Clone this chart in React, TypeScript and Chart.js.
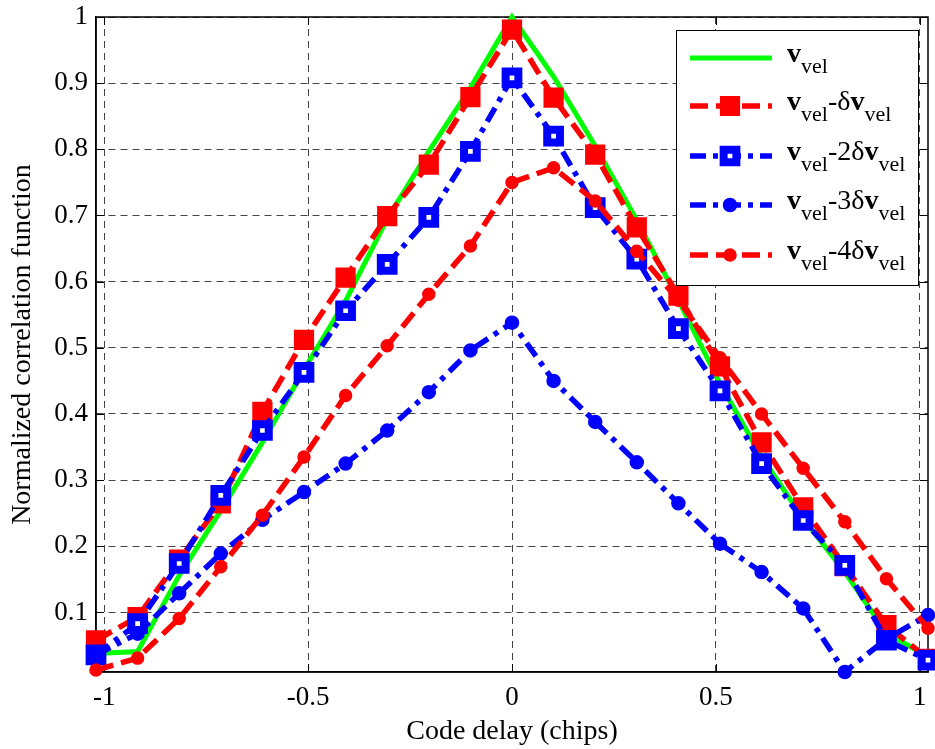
import React, { useEffect, useRef } from "react";
import { Chart, registerables } from "chart.js";

Chart.register(...registerables);

const codeDelay = [-1.02, -0.918, -0.816, -0.714, -0.612, -0.51, -0.408, -0.306, -0.204, -0.102, 0, 0.102, 0.204, 0.306, 0.408, 0.51, 0.612, 0.714, 0.816, 0.918, 1.02];
const vVel = [0.038, 0.041, 0.156, 0.254, 0.357, 0.467, 0.571, 0.695, 0.797, 0.893, 1.0, 0.91, 0.805, 0.693, 0.572, 0.446, 0.335, 0.242, 0.161, 0.069, 0.033];
const vMinus1 = [0.058, 0.093, 0.18, 0.265, 0.403, 0.512, 0.606, 0.699, 0.777, 0.879, 0.981, 0.878, 0.792, 0.682, 0.579, 0.472, 0.357, 0.259, 0.17, 0.081, 0.03];
const vMinus2 = [0.036, 0.083, 0.174, 0.277, 0.375, 0.463, 0.556, 0.626, 0.697, 0.797, 0.908, 0.82, 0.712, 0.634, 0.529, 0.435, 0.325, 0.239, 0.171, 0.058, 0.028];
const vMinus3 = [0.036, 0.068, 0.129, 0.189, 0.24, 0.282, 0.325, 0.375, 0.433, 0.496, 0.538, 0.45, 0.388, 0.327, 0.265, 0.204, 0.161, 0.106, 0.01, 0.06, 0.096];
const vMinus4 = [0.013, 0.031, 0.091, 0.169, 0.247, 0.335, 0.428, 0.503, 0.581, 0.654, 0.75, 0.772, 0.722, 0.646, 0.572, 0.485, 0.4, 0.318, 0.237, 0.151, 0.076];

const xTickValues = [-1, -0.5, 0, 0.5, 1];
const yTickValues = [0.1, 0.2, 0.3, 0.4, 0.5, 0.6, 0.7, 0.8, 0.9, 1];

const xTitle = "Code delay (chips)";
const yTitle = "Normalized correlation function";

// legend labels: segments [text, style] where style: b = bold, s = subscript, n = normal
const legendLabels: [string, string][][] = [
  [["v", "b"], ["vel", "s"]],
  [["v", "b"], ["vel", "s"], ["-δ", "n"], ["v", "b"], ["vel", "s"]],
  [["v", "b"], ["vel", "s"], ["-2δ", "n"], ["v", "b"], ["vel", "s"]],
  [["v", "b"], ["vel", "s"], ["-3δ", "n"], ["v", "b"], ["vel", "s"]],
  [["v", "b"], ["vel", "s"], ["-4δ", "n"], ["v", "b"], ["vel", "s"]],
];

const FONT = "'Liberation Serif', 'Times New Roman', serif";
const GREEN = "#00ff00";
const RED = "#ff0000";
const BLUE = "#0000ff";
const RED_DASH = [18, 8];
const BLUE_DASH = [16, 7, 5, 7];

const PLOT_LEFT = 96;
const PLOT_RIGHT = 928;

type Style = { color: string; dash: number[]; width: number; marker: string | null; fill: string; radius: number; bw: number };
const styles: Style[] = [
  { color: GREEN, dash: [], width: 5, marker: null, fill: GREEN, radius: 0, bw: 0 },
  { color: RED, dash: RED_DASH, width: 5.5, marker: "rect", fill: RED, radius: 9, bw: 7.5 },
  { color: BLUE, dash: BLUE_DASH, width: 5.5, marker: "rect", fill: "#ffffff", radius: 9, bw: 8 },
  { color: BLUE, dash: BLUE_DASH, width: 5.5, marker: "circle", fill: BLUE, radius: 6.5, bw: 1.5 },
  { color: RED, dash: RED_DASH, width: 5.5, marker: "circle", fill: RED, radius: 6, bw: 1.5 },
];

const boxPlugin = {
  id: "boxTicks",
  beforeDatasetsDraw(chart: any) {
    const { ctx, chartArea: a, scales } = chart;
    ctx.save();
    ctx.setLineDash([]);
    ctx.strokeStyle = "#000";
    ctx.lineWidth = 1.5;
    ctx.strokeRect(a.left, a.top, a.right - a.left, a.bottom - a.top);
    const L = 8;
    ctx.lineWidth = 1;
    ctx.beginPath();
    for (const v of xTickValues) {
      const x = Math.round(scales.x.getPixelForValue(v)) + 0.5;
      ctx.moveTo(x, a.bottom);
      ctx.lineTo(x, a.bottom - L);
      ctx.moveTo(x, a.top);
      ctx.lineTo(x, a.top + L);
    }
    for (const v of yTickValues) {
      const y = Math.round(scales.y.getPixelForValue(v)) + 0.5;
      ctx.moveTo(a.left, y);
      ctx.lineTo(a.left + L, y);
      ctx.moveTo(a.right, y);
      ctx.lineTo(a.right - L, y);
    }
    ctx.stroke();
    ctx.restore();
  },
};

const legendPlugin = {
  id: "customLegend",
  afterDraw(chart: any) {
    const { ctx } = chart;
    const bx = 676, by = 30, bw = 242, bh = 255;
    ctx.save();
    ctx.fillStyle = "#fff";
    ctx.fillRect(bx, by, bw, bh);
    ctx.strokeStyle = "#000";
    ctx.lineWidth = 1;
    ctx.setLineDash([]);
    ctx.strokeRect(bx + 0.5, by + 0.5, bw, bh);
    const rowY = [58, 106, 156, 205, 255];
    const x0 = 690, x1 = 772, mx = 730;
    legendLabels.forEach((segs, i) => {
      const s = styles[i];
      const y = rowY[i];
      ctx.save();
      ctx.strokeStyle = s.color;
      ctx.lineWidth = s.width;
      ctx.lineCap = "butt";
      ctx.setLineDash(s.dash);
      ctx.beginPath();
      ctx.moveTo(x0, y);
      ctx.lineTo(x1, y);
      ctx.stroke();
      ctx.setLineDash([]);
      if (s.marker) {
        ctx.fillStyle = s.fill;
        ctx.strokeStyle = s.color;
        ctx.lineWidth = s.bw;
        ctx.beginPath();
        if (s.marker === "rect") {
          const h = s.radius * Math.SQRT1_2;
          ctx.rect(mx - h, y - h, 2 * h, 2 * h);
        } else {
          ctx.arc(mx, y, s.radius, 0, Math.PI * 2);
        }
        ctx.fill();
        ctx.stroke();
      }
      ctx.restore();
      let tx = 787;
      ctx.fillStyle = "#000";
      ctx.textBaseline = "alphabetic";
      ctx.textAlign = "left";
      for (const [t, st] of segs) {
        if (st === "b") {
          ctx.font = `bold 28px ${FONT}`;
          ctx.fillText(t, tx, y + 4);
        } else if (st === "s") {
          ctx.font = `22px ${FONT}`;
          ctx.fillText(t, tx, y + 15);
        } else {
          ctx.font = `28px ${FONT}`;
          ctx.fillText(t, tx, y + 4);
        }
        tx += ctx.measureText(t).width;
      }
    });
    ctx.restore();
  },
};

// Forces the plot area's horizontal extent after layout, keeping scales consistent.
const areaPlugin = {
  id: "forceArea",
  afterLayout(chart: any) {
    const a = chart.chartArea;
    const xs = chart.scales.x;
    if (a.right !== PLOT_RIGHT) {
      a.right = PLOT_RIGHT;
      a.width = a.right - a.left;
      xs.right = PLOT_RIGHT;
      xs.width = xs.right - xs.left;
      xs.configure();
      const ys = chart.scales.y;
      ys.configure && ys.configure();
    }
  },
};

export default function App() {
  const ref = useRef<HTMLCanvasElement | null>(null);
  useEffect(() => {
    const canvas = ref.current!;
    const seriesValues = [vVel, vMinus1, vMinus2, vMinus3, vMinus4];
    const datasets = seriesValues.map((vals, i) => {
      const s = styles[i];
      return {
        label: "s" + i,
        data: codeDelay.map((x, k) => ({ x, y: vals[k] })),
        borderColor: s.color,
        borderWidth: s.width,
        borderDash: s.dash,
        borderCapStyle: "butt" as const,
        backgroundColor: s.fill,
        pointStyle: s.marker || "circle",
        pointRadius: s.radius,
        pointBorderWidth: s.bw,
        pointBackgroundColor: s.fill,
        pointBorderColor: s.color,
        tension: 0,
        fill: false,
        clip: false as any,
        order: 5 - i,
      };
    });
    const chart = new Chart(canvas, {
      type: "line",
      data: { datasets: datasets as any },
      options: {
        animation: false,
        responsive: false,
        layout: { padding: { top: 17, right: 7, left: 0, bottom: 0 } },
        plugins: { legend: { display: false }, tooltip: { enabled: false } },
        scales: {
          x: {
            type: "linear",
            min: -1.02,
            max: 1.02,
            afterBuildTicks: (scale: any) => {
              scale.ticks = xTickValues.map((v) => ({ value: v }));
            },
            afterFit: (scale: any) => {
              scale.height = 77;
              scale.paddingLeft = 0;
              scale.paddingRight = 0;
            },
            ticks: {
              callback: (v: any) => String(v),
              font: { family: FONT, size: 27 },
              color: "#000",
              padding: 10,
              maxRotation: 0,
              autoSkip: false,
            },
            grid: { color: "#444", lineWidth: 1, drawTicks: false },
            border: { display: true, color: "#000", width: 1.5, dash: [7, 5] },
            title: {
              display: true,
              text: xTitle,
              font: { family: FONT, size: 28 },
              color: "#000",
              padding: { top: 0, bottom: 1 },
            },
          },
          y: {
            type: "linear",
            min: 0.01,
            max: 1,
            afterBuildTicks: (scale: any) => {
              scale.ticks = yTickValues.map((v) => ({ value: v }));
            },
            afterFit: (scale: any) => {
              scale.width = PLOT_LEFT;
              scale.paddingTop = 0;
              scale.paddingBottom = 0;
            },
            ticks: {
              callback: (v: any) => String(v),
              font: { family: FONT, size: 27 },
              color: "#000",
              padding: 8,
              autoSkip: false,
            },
            grid: { color: "#444", lineWidth: 1, drawTicks: false },
            border: { display: true, color: "#000", width: 1.5, dash: [7, 5] },
            title: {
              display: true,
              text: yTitle,
              font: { family: FONT, size: 28 },
              color: "#000",
              padding: { top: 6, bottom: 0 },
            },
          },
        },
      },
      plugins: [areaPlugin, boxPlugin, legendPlugin],
    });
    return () => chart.destroy();
  }, []);
  return (
    <div style={{ position: "absolute", left: 0, top: 0, width: 935, height: 749, background: "#fff" }}>
      <canvas ref={ref} width={935} height={749} style={{ width: 935, height: 749, display: "block" }} />
    </div>
  );
}
